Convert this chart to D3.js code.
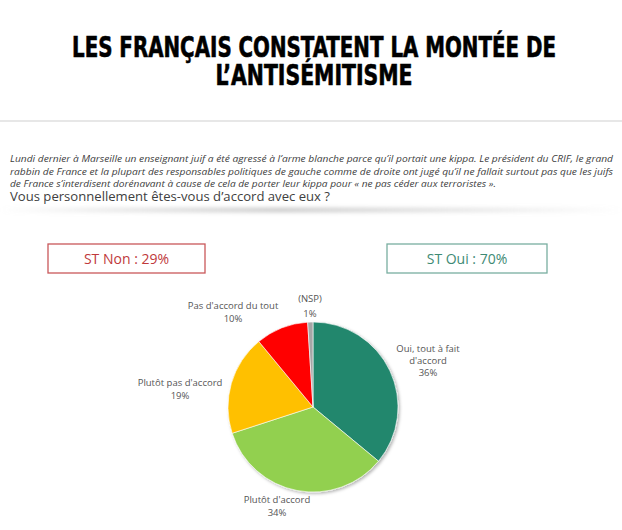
<!DOCTYPE html>
<html>
<head>
<meta charset="utf-8">
<script src="https://cdn.jsdelivr.net/npm/d3@7"></script>
<style>
  body { margin: 0; background: #fff; }
  svg { display: block; }
</style>
</head>
<body>
<script>
// data
const categories = ['Oui, tout à fait d\'accord', 'Plutôt d\'accord', 'Plutôt pas d\'accord', 'Pas d\'accord du tout', '(NSP)'];
const labelLines = [['Oui, tout à fait', 'd\'accord'], ['Plutôt d\'accord'], ['Plutôt pas d\'accord'], ['Pas d\'accord du tout'], ['(NSP)']];
const values = [36, 34, 19, 10, 1];
const colors = ['#23876d', '#92d050', '#ffc000', '#ff0000', '#a6a6a6'];
const totals = ['ST Non : 29%', 'ST Oui : 70%'];
const titleLines = ['LES FRANÇAIS CONSTATENT LA MONTÉE DE', 'L\u2019ANTISÉMITISME'];
const introLines = [
  'Lundi dernier à Marseille un enseignant juif a été agressé à l\u2019arme blanche parce qu\u2019il portait une kippa. Le président du CRIF, le grand',
  'rabbin de France et la plupart des responsables politiques de gauche comme de droite ont jugé qu\u2019il ne fallait surtout pas que les juifs',
  'de France s\u2019interdisent dorénavant à cause de cela de porter leur kippa pour « ne pas céder aux terroristes ».'
];
const question = 'Vous personnellement êtes-vous d\u2019accord avec eux ?';

const width = 622;
const height = 530;

const svg = d3.select('body')
  .append('svg')
  .attr('width', width)
  .attr('height', height)

const defs = svg.append('defs')
const grad = defs.append('linearGradient').attr('id', 'shade')
grad.append('stop').attr('offset', '0%').attr('stop-color', '#bbb').attr('stop-opacity', 0)
grad.append('stop').attr('offset', '45%').attr('stop-color', '#bbb').attr('stop-opacity', 0.9)
grad.append('stop').attr('offset', '100%').attr('stop-color', '#bbb').attr('stop-opacity', 0)
const blur = defs.append('filter').attr('id', 'blur').attr('y', '-200%').attr('height', '500%')
blur.append('feGaussianBlur').attr('stdDeviation', 2)
const drop = defs.append('filter').attr('id', 'drop').attr('x', '-20%').attr('y', '-20%').attr('width', '140%').attr('height', '140%')
drop.append('feDropShadow').attr('dx', 1.5).attr('dy', 1.5).attr('stdDeviation', 1.5)
  .attr('flood-color', '#000').attr('flood-opacity', 0.3)

// title
const titleFont = '"Liberation Sans Narrow", "DejaVu Sans Condensed", "DejaVu Sans", sans-serif';
const titleW = [484, 197];
svg.selectAll('.title')
  .data(titleLines)
  .enter()
  .append('text')
  .attr('class', 'title')
  .attr('x', width / 2 + 3)
  .attr('y', (d, i) => 57 + i * 28)
  .attr('text-anchor', 'middle')
  .attr('textLength', (d, i) => titleW[i])
  .attr('lengthAdjust', 'spacingAndGlyphs')
  .style('font-family', titleFont)
  .style('font-weight', 'bold')
  .style('font-size', '28px')
  .style('fill', '#000')
  .style('stroke', '#000')
  .style('stroke-width', 0.6)
  .text(d => d)

// separator line
svg.append('line')
  .attr('x1', 0).attr('x2', width)
  .attr('y1', 121).attr('y2', 121)
  .attr('stroke', '#d0d0d0')
  .attr('stroke-width', 1.2)

// intro text
const introW = [603, 603, 486];
svg.selectAll('.intro')
  .data(introLines)
  .enter()
  .append('text')
  .attr('class', 'intro')
  .attr('x', 10)
  .attr('y', (d, i) => 162 + i * 12.7)
  .attr('textLength', (d, i) => introW[i])
  .attr('lengthAdjust', 'spacingAndGlyphs')
  .style('font-family', '"Open Sans", sans-serif')
  .style('font-style', 'italic')
  .style('font-size', '9.2px')
  .style('fill', '#404040')
  .text(d => d)

svg.append('rect')
  .attr('x', 0).attr('y', 208)
  .attr('width', width).attr('height', 4)
  .attr('fill', 'url(#shade)')
  .attr('filter', 'url(#blur)')

svg.append('text')
  .attr('x', 10)
  .attr('y', 201)
  .attr('textLength', 320)
  .attr('lengthAdjust', 'spacingAndGlyphs')
  .style('font-family', '"Open Sans", sans-serif')
  .style('font-size', '13.2px')
  .style('fill', '#404040')
  .text(question)

// total boxes
const boxes = [
  { x: 48, w: 157, stroke: '#c9585a', fill: '#c0393b' },
  { x: 387, w: 160, stroke: '#79aea0', fill: '#3e8a74' }
];
const boxG = svg.selectAll('.box')
  .data(totals)
  .enter()
  .append('g')
  .attr('class', 'box')
  .attr('transform', (d, i) => `translate(${boxes[i].x},244)`)
boxG.append('rect')
  .attr('width', (d, i) => boxes[i].w)
  .attr('height', 29)
  .attr('fill', '#fff')
  .attr('stroke', (d, i) => boxes[i].stroke)
  .attr('stroke-width', 1.3)
boxG.append('text')
  .attr('x', (d, i) => boxes[i].w / 2)
  .attr('y', 20)
  .attr('text-anchor', 'middle')
  .style('font-family', '"Open Sans", sans-serif')
  .style('font-size', '14px')
  .style('fill', (d, i) => boxes[i].fill)
  .text(d => d)

// pie
const cx = 313, cy = 407, radius = 85;
const pie = d3.pie().sort(null).value(d => d)
const arc = d3.arc().innerRadius(0).outerRadius(radius)
const arcs = pie(values)

const pieG = svg.append('g')
  .attr('transform', `translate(${cx},${cy})`)

pieG.append('g')
  .attr('filter', 'url(#drop)')
  .selectAll('path')
  .data(arcs)
  .enter()
  .append('path')
  .attr('d', arc)
  .attr('fill', (d, i) => colors[i])
  .attr('stroke', '#fff')
  .attr('stroke-width', 0.6)

// label anchors relative to the pie centre (first baseline)
const labelPos = [[115, -55], [-36, 96], [-133, -21], [-80, -98], [-3, -105]];
const lineGap = [12, 13, 12.5, 13, 15];

const labels = pieG.selectAll('.lbl')
  .data(arcs)
  .enter()
  .append('text')
  .attr('class', 'lbl')
  .attr('text-anchor', 'middle')
  .style('font-family', '"Open Sans", sans-serif')
  .style('font-size', '9.5px')
  .style('fill', '#555')

labels.each(function (d, i) {
  const lines = labelLines[i].concat([d.data + '%'])
  d3.select(this).selectAll('tspan')
    .data(lines)
    .enter()
    .append('tspan')
    .attr('x', labelPos[i][0])
    .attr('y', (l, j) => labelPos[i][1] + j * lineGap[i])
    .text(l => l)
})
</script>
</body>
</html>
